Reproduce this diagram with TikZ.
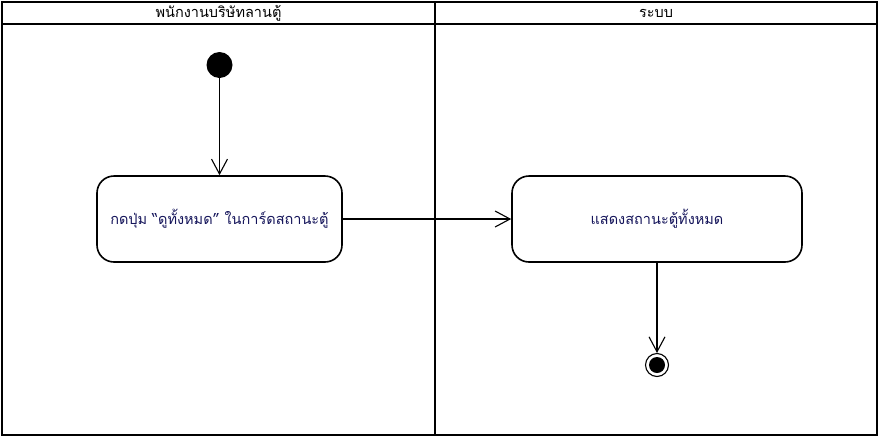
\documentclass[tikz,border=0pt]{standalone}
\usepackage{fontspec}
\newfontfamily\thaifont[Script=Thai]{Loma}
\usepackage{tikz}
\usetikzlibrary{arrows.meta}
\usetikzlibrary{positioning}
\definecolor{lanetext}{RGB}{0,0,0}
\definecolor{acttext}{RGB}{20,20,90}

\begin{document}
\begin{tikzpicture}[x=1pt,y=-1pt,node distance=10pt,on grid,>={Straight Barb[length=15pt,width=16pt]},
		lane/.style={line width=2.6pt},
		activity/.style={rectangle,rounded corners=17pt,draw=black,line width=1.6pt,minimum height=86pt,font=\thaifont\fontsize{14.5}{16}\selectfont,text=acttext},
		startst/.style={circle,fill=black,inner sep=0pt,minimum size=26pt},
		endst/.style={circle,draw=black,line width=1.1pt,fill=white,inner sep=0pt,minimum size=23pt},
		flow/.style={->,line width=1.1pt}]
		\useasboundingbox (0,0) rectangle (880,437);
		% swimlanes
		\draw[lane] (2,2) rectangle (877,435);
		\draw[lane] (2,24) -- (877,24);
		\draw[lane] (435,2) -- (435,435);
		\node[font=\thaifont\fontsize{14.5}{16}\selectfont,text=lanetext] (staff) at (218.5,13) {พนักงานบริษัทลานตู้};
		\node[font=\thaifont\fontsize{14.5}{16}\selectfont,text=lanetext] (system) at (656,13) {ระบบ};
		
		\node[activity,minimum width=245pt] (press) at (219.5,219) {กดปุ่ม “ดูทั้งหมด” ในการ์ดสถานะตู้};
		\node[activity,minimum width=290pt] (show) [right=437.5pt of press] {แสดงสถานะตู้ทั้งหมด};
		\node[startst] (start) [above=154pt of press] {};
		\node[endst] (end) [below=146pt of show] {};
		\fill[black] (end) circle (8pt);
		
		\path[flow]
		(start) edge (press)
		(press) edge (show)
		(show) edge (end);
		\end{tikzpicture}
\end{document}
